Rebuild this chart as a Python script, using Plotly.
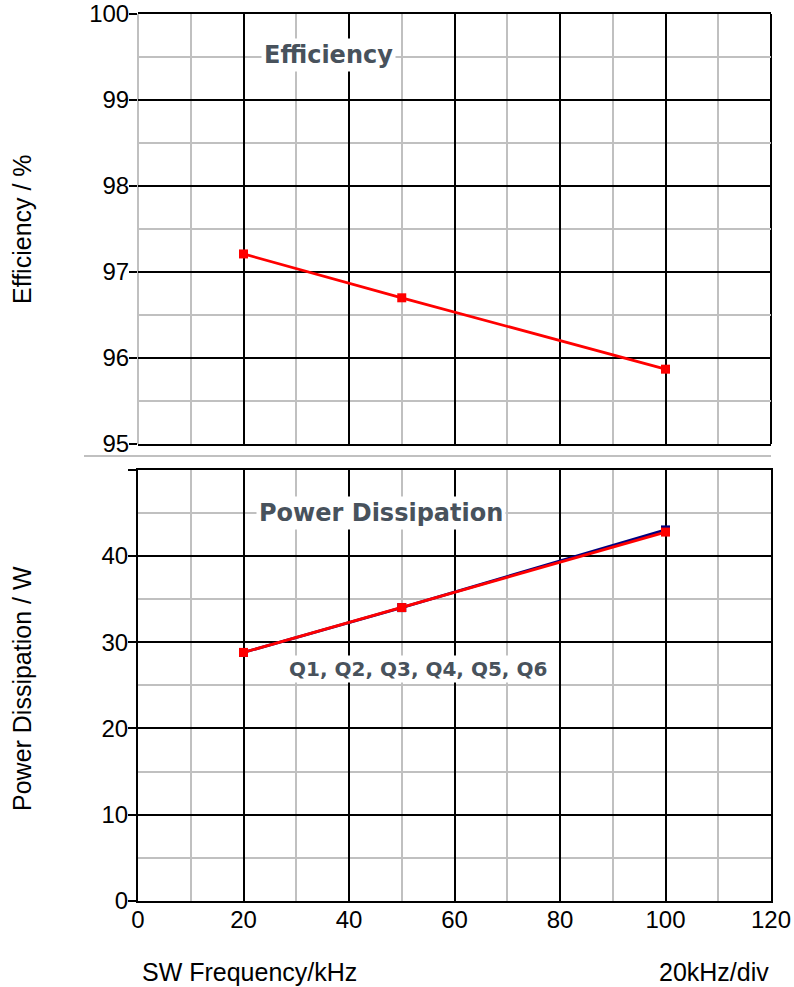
import plotly.graph_objects as go

freq = [20, 50, 100]
efficiency = [97.21, 96.70, 95.87]
loss_blue = [28.8, 34.0, 43.0]
loss_red = [28.8, 34.0, 42.75]

x_major = [20, 40, 60, 80, 100, 120]
x_minor_top = [0, 10, 30, 50, 70, 90, 110]
x_ticks = [0, 20, 40, 60, 80, 100, 120]
eff_ticks = [95, 96, 97, 98, 99, 100]
pd_ticks = [0, 10, 20, 30, 40, 50]
pd_labels = ["0", "10", "20", "30", "40", ""]

W, H = 794, 987
L, R, T, B = 138, 23, 14, 86
ph = H - T - B

def py(p):
    return (H - B - p) / ph

fig = go.Figure()

fig.add_trace(go.Scatter(x=freq, y=efficiency, mode="lines+markers",
                         line=dict(color="#ff0000", width=2.8),
                         marker=dict(symbol="square", size=9, color="#ff0000"),
                         xaxis="x", yaxis="y", showlegend=False, cliponaxis=False))
fig.add_trace(go.Scatter(x=freq, y=loss_blue, mode="lines+markers",
                         line=dict(color="#000080", width=2.8),
                         marker=dict(symbol="square", size=9, color="#000080"),
                         xaxis="x2", yaxis="y2", showlegend=False))
fig.add_trace(go.Scatter(x=freq, y=loss_red, mode="lines+markers",
                         line=dict(color="#ff0000", width=2.8),
                         marker=dict(symbol="square", size=9, color="#ff0000"),
                         xaxis="x2", yaxis="y2", showlegend=False))

tickfont = dict(family="Liberation Sans, Arial", size=24, color="black")
grid_major = dict(showgrid=True, gridcolor="black", gridwidth=2, zeroline=False,
                  automargin=False)

fig.update_layout(
    width=W, height=H,
    margin=dict(l=L, r=R, t=T, b=B, pad=0),
    paper_bgcolor="white", plot_bgcolor="white",
    xaxis=dict(domain=[0, 1], range=[0, 120], anchor="y",
               tickmode="array", tickvals=x_major, showticklabels=False, ticks="",
               showline=True, mirror=True, linecolor="black", linewidth=2,
               minor=dict(tickmode="array", tickvals=x_minor_top, showgrid=True,
                          gridcolor="#c0c0c0", gridwidth=2, ticks=""),
               **grid_major),
    yaxis=dict(domain=[py(444), 1], range=[95, 100], anchor="x",
               tickmode="array", tickvals=eff_ticks, ticks="outside", ticklen=8,
               tickwidth=2, tickcolor="black", tickfont=tickfont, ticklabelstandoff=-5,
               showline=False,
               minor=dict(dtick=0.5, showgrid=True, gridcolor="#c0c0c0", gridwidth=2, ticks=""),
               **grid_major),
    xaxis2=dict(domain=[0, 1], range=[0, 120], anchor="y2",
                tickmode="array", tickvals=x_ticks, ticks="", tickfont=tickfont,
                ticklabelstandoff=-4,
                showline=True, mirror=True, linecolor="black", linewidth=2,
                minor=dict(dtick=10, showgrid=True, gridcolor="#c0c0c0", gridwidth=2, ticks=""),
                **grid_major),
    yaxis2=dict(domain=[0, py(469.5)], range=[0, 50], anchor="x2",
                tickmode="array", tickvals=pd_ticks, ticktext=pd_labels,
                ticks="outside", ticklen=8, tickwidth=2, tickcolor="black", tickfont=tickfont,
                ticklabelstandoff=-5,
                showline=True, mirror=True, linecolor="black", linewidth=2,
                minor=dict(dtick=5, showgrid=True, gridcolor="#c0c0c0", gridwidth=2, ticks=""),
                **grid_major),
)

# top panel side frame: grey left edge, black right edge
fig.add_shape(type="line", xref="x domain", yref="y domain", x0=0, x1=0, y0=0, y1=1,
              line=dict(color="#c0c0c0", width=2), layer="below")
fig.add_shape(type="line", xref="x domain", yref="y domain", x0=1, x1=1, y0=0, y1=1,
              line=dict(color="black", width=2), layer="below")

title_font = dict(family="DejaVu Sans", size=24, color="#48525c")
fig.add_annotation(x=36.2, y=99.52, xref="x", yref="y", text="<b>Efficiency</b>",
                   showarrow=False, font=title_font, bgcolor="white", borderpad=2)
fig.add_annotation(x=46.1, y=45.0, xref="x2", yref="y2", text="<b>Power Dissipation</b>",
                   showarrow=False, font=title_font, bgcolor="white", borderpad=2)
fig.add_annotation(x=53.0, y=26.9, xref="x2", yref="y2", text="<b>Q1, Q2, Q3, Q4, Q5, Q6</b>",
                   showarrow=False, font=dict(family="DejaVu Sans", size=20, color="#48525c"),
                   bgcolor="white", borderpad=1)

axis_font = dict(family="Liberation Sans, Arial", size=25, color="black")
fig.add_annotation(x=(22 - L) / (W - L - R), y=py(229), xref="paper", yref="paper",
                   xanchor="center", yanchor="middle",
                   text="Efficiency / %", textangle=-90, showarrow=False, font=axis_font)
fig.add_annotation(x=(22 - L) / (W - L - R), y=py(689), xref="paper", yref="paper",
                   xanchor="center", yanchor="middle",
                   text="Power Dissipation / W", textangle=-90, showarrow=False, font=axis_font)
fig.add_annotation(x=(140 - L) / (W - L - R), y=py(972), xref="paper", yref="paper",
                   xanchor="left", yanchor="middle",
                   text="SW Frequency/kHz", showarrow=False, font=axis_font)
fig.add_annotation(x=1, y=py(972), xref="paper", yref="paper",
                   xanchor="right", yanchor="middle",
                   text="20kHz/div", showarrow=False, font=axis_font)

fig.add_shape(type="line", xref="paper", yref="paper",
              x0=(84 - L) / (W - L - R), x1=1, y0=py(456), y1=py(456),
              line=dict(color="#c0c0c0", width=2))

fig.write_html("out.html")
